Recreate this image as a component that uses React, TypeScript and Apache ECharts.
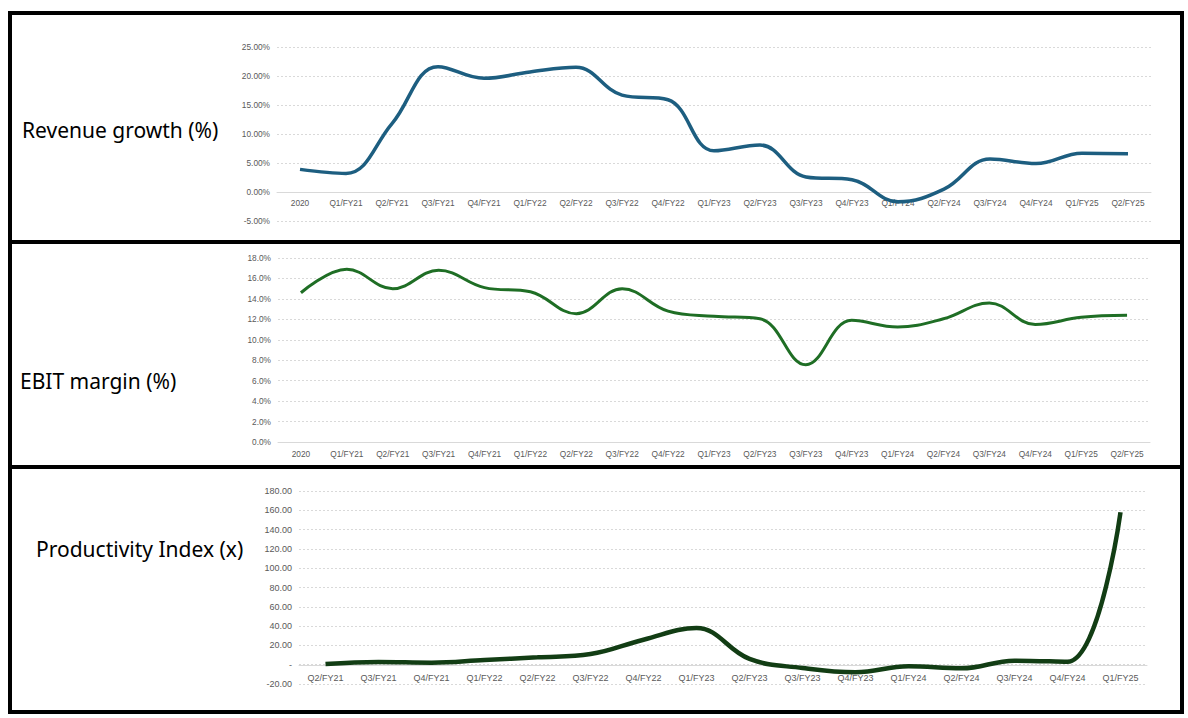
import React, { useEffect, useRef } from "react";
import * as echarts from "echarts";

const categoriesA = ["2020", "Q1/FY21", "Q2/FY21", "Q3/FY21", "Q4/FY21", "Q1/FY22", "Q2/FY22", "Q3/FY22", "Q4/FY22", "Q1/FY23", "Q2/FY23", "Q3/FY23", "Q4/FY23", "Q1/FY24", "Q2/FY24", "Q3/FY24", "Q4/FY24", "Q1/FY25", "Q2/FY25"];
const revenueGrowth = [3.9, 3.2, 11.8, 21.6, 19.6, 20.7, 21.5, 16.7, 15.9, 7.1, 8.1, 2.6, 2.1, -1.7, 0.5, 5.7, 4.9, 6.7, 6.6];
const ebitMargin = [14.6, 16.9, 15.0, 16.8, 15.1, 14.7, 12.55, 15.0, 12.8, 12.3, 12.05, 7.55, 11.9, 11.25, 12.05, 13.6, 11.5, 12.2, 12.4];
const categoriesB = ["Q2/FY21", "Q3/FY21", "Q4/FY21", "Q1/FY22", "Q2/FY22", "Q3/FY22", "Q4/FY22", "Q1/FY23", "Q2/FY23", "Q3/FY23", "Q4/FY23", "Q1/FY24", "Q2/FY24", "Q3/FY24", "Q4/FY24", "Q1/FY25"];
const productivity = [0.7, 2.8, 2.1, 4.9, 7.6, 11, 25.9, 38, 6, -3.4, -7.9, -1.7, -3.8, 4.2, 3, 158];
const panelTitles = ["Revenue growth (%)", "EBIT margin (%)", "Productivity Index (x)"];

const AXIS_FONT = "Liberation Sans, Arial, sans-serif";
const LABEL_COLOR = "#595959";
const GRID_COLOR = "#d9d9d9";

function xAxisCfg(gridIndex: number, data: string[], fontSize: number, margin: number, offset: number) {
  return {
    type: "category",
    gridIndex,
    data,
    boundaryGap: true,
    offset,
    axisLine: { show: true, onZero: false, lineStyle: { color: GRID_COLOR, width: 1 } },
    axisTick: { show: false },
    axisLabel: { color: LABEL_COLOR, fontSize, fontFamily: AXIS_FONT, margin, interval: 0 },
    splitLine: { show: false },
  };
}

function yAxisCfg(gridIndex: number, min: number, max: number, interval: number, fontSize: number, fmt: (v: number) => string) {
  return {
    type: "value",
    gridIndex,
    min,
    max,
    interval,
    axisLine: { show: false },
    axisTick: { show: false },
    axisLabel: { color: LABEL_COLOR, fontSize, fontFamily: AXIS_FONT, margin: 7, formatter: fmt },
    splitLine: { show: true, lineStyle: { color: GRID_COLOR, type: [2, 2], width: 1 } },
  };
}

export default function App() {
  const ref = useRef<HTMLDivElement>(null);
  useEffect(() => {
    if (!ref.current) return;
    const chart = echarts.init(ref.current, null, { renderer: "svg" });
    const titleStyle = { fontFamily: "Noto Sans, sans-serif", fontSize: 21, fill: "#000" };
    chart.setOption({
      animation: false,
      backgroundColor: "#fff",
      grid: [
        { left: 277, top: 47, width: 874, height: 174, outerBoundsMode: "none" },
        { left: 278, top: 258, width: 872, height: 184, outerBoundsMode: "none" },
        { left: 299, top: 491, width: 848, height: 193, outerBoundsMode: "none" },
      ],
      xAxis: [
        xAxisCfg(0, categoriesA, 8.3, 7, -29),
        xAxisCfg(1, categoriesA, 8.3, 8, 0),
        xAxisCfg(2, categoriesB, 9, 8, -18.3),
      ],
      yAxis: [
        yAxisCfg(0, -5, 25, 5, 8.3, (v: number) => v.toFixed(2) + "%"),
        yAxisCfg(1, 0, 18, 2, 8.3, (v: number) => v.toFixed(1) + "%"),
        yAxisCfg(2, -20, 180, 20, 9, (v: number) => (v === 0 ? "-" : v.toFixed(2))),
      ],
      series: [
        { type: "line", xAxisIndex: 0, yAxisIndex: 0, data: revenueGrowth, smooth: 0.4, showSymbol: false, lineStyle: { color: "#1d5e80", width: 3.5 } },
        { type: "line", xAxisIndex: 1, yAxisIndex: 1, data: ebitMargin, smooth: 0.4, showSymbol: false, lineStyle: { color: "#1f6e25", width: 3 } },
        { type: "line", xAxisIndex: 2, yAxisIndex: 2, data: productivity, smooth: 0.4, showSymbol: false, lineStyle: { color: "#123d14", width: 4.5 } },
      ],
      graphic: [
        { type: "rect", shape: { x: 10, y: 13, width: 1172, height: 699 }, style: { fill: "none", stroke: "#000", lineWidth: 4 } },
        { type: "line", shape: { x1: 10, y1: 242, x2: 1182, y2: 242 }, style: { stroke: "#000", lineWidth: 4 } },
        { type: "line", shape: { x1: 10, y1: 467, x2: 1182, y2: 467 }, style: { stroke: "#000", lineWidth: 4 } },
        { type: "text", x: 22, y: 130, style: { ...titleStyle, text: panelTitles[0], verticalAlign: "middle" } },
        { type: "text", x: 20, y: 381, style: { ...titleStyle, text: panelTitles[1], verticalAlign: "middle" } },
        { type: "text", x: 36, y: 549, style: { ...titleStyle, text: panelTitles[2], verticalAlign: "middle" } },
      ],
    });
    return () => chart.dispose();
  }, []);
  return <div ref={ref} style={{ position: "absolute", left: 0, top: 0, width: 1188, height: 718 }} />;
}
